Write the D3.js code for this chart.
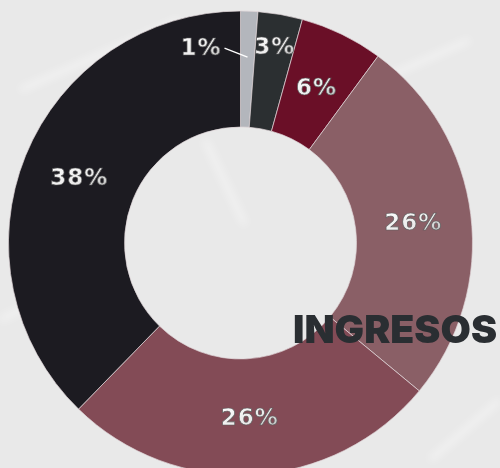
<!DOCTYPE html>
<html>
<head>
<meta charset="utf-8">
<script src="https://cdn.jsdelivr.net/npm/d3@7"></script>
<style>
  body { margin: 0; background: #e9e9e9; }
  svg { display: block; }
</style>
</head>
<body>
<div id="chart"></div>
<script>
// Datos del gráfico (porcentajes por categoría)
const categorias = ['A', 'B', 'C', 'D', 'E', 'F']
const valores = [1.2, 3.1, 5.8, 25.9, 26.3, 37.7]
const etiquetas = ['1%', '3%', '6%', '26%', '26%', '38%']
const colores = ['#b3b6bc', '#2b2f31', '#6a0f27', '#8a5f66', '#834b56', '#1c1b21']
const titulo = 'INGRESOS'

const width = 500
const height = 468
const cx = 240.5
const cy = 243
const outer = 232
const inner = 116

const svg = d3.select('#chart').append('svg')
  .attr('width', width)
  .attr('height', height)

// Fondo con algunas vetas blancas
svg.append('rect').attr('width', width).attr('height', height).attr('fill', '#e9e9e9')
const defs = svg.append('defs')
defs.append('filter').attr('id', 'blur')
  .append('feGaussianBlur').attr('stdDeviation', 4)

const vetas = [
  [[20, 90], [180, 20]], [[380, 80], [470, 40]], [[0, 320], [60, 290]],
  [[430, 460], [500, 400]], [[205, 140], [245, 225]], [[150, 450], [230, 468]]
]
svg.append('g').attr('filter', 'url(#blur)')
  .selectAll('line').data(vetas).join('line')
  .attr('x1', d => d[0][0]).attr('y1', d => d[0][1])
  .attr('x2', d => d[1][0]).attr('y2', d => d[1][1])
  .attr('stroke', '#fff').attr('stroke-width', 6).attr('opacity', 0.45)

// Gradiente para las etiquetas
const grad = defs.append('linearGradient').attr('id', 'metal')
  .attr('x1', '0').attr('y1', '0').attr('x2', '1').attr('y2', '1')
grad.append('stop').attr('offset', '0%').attr('stop-color', '#ffffff')
grad.append('stop').attr('offset', '60%').attr('stop-color', '#e9e9e9')
grad.append('stop').attr('offset', '100%').attr('stop-color', '#b0b0b0')

const pie = d3.pie().sort(null).value(d => d.value)
const arc = d3.arc().innerRadius(inner).outerRadius(outer)

const data = categorias.map((c, i) => ({ cat: c, value: valores[i], label: etiquetas[i], color: colores[i] }))
const arcs = pie(data)

const g = svg.append('g').attr('transform', `translate(${cx},${cy})`)

g.selectAll('path').data(arcs).join('path')
  .attr('d', arc)
  .attr('fill', d => d.data.color)
  .attr('stroke', '#e0d6d8')
  .attr('stroke-width', 0.7)

// Radios para las etiquetas
const labelArc = d3.arc().innerRadius(174).outerRadius(174)
const outArc = d3.arc().innerRadius(200).outerRadius(200)
const lineArc = d3.arc().innerRadius(186).outerRadius(186)

const estiloTexto = sel => sel
  .attr('font-family', 'DejaVu Sans')
  .attr('font-weight', 'bold')
  .attr('font-size', 23)
  .attr('letter-spacing', 1)
  .attr('fill', 'url(#metal)')
  .attr('stroke', '#5d5d5d')
  .attr('stroke-width', 0.7)
  .attr('dominant-baseline', 'central')

arcs.forEach((d, i) => {
  if (i === 0) {
    // Etiqueta con línea guía
    const [px, py] = lineArc.centroid(d)
    const qx = px - 23, qy = py - 9
    g.append('line')
      .attr('x1', px).attr('y1', py).attr('x2', qx).attr('y2', qy)
      .attr('stroke', '#fff').attr('stroke-width', 1.3)
    g.append('text').call(estiloTexto)
      .attr('x', qx - 3).attr('y', qy - 1)
      .attr('text-anchor', 'end')
      .text(d.data.label)
  } else {
    const [x, y] = (i === 1 ? outArc : labelArc).centroid(d)
    g.append('text').call(estiloTexto)
      .attr('x', x).attr('y', y)
      .attr('text-anchor', 'middle')
      .text(d.data.label)
  }
})

svg.append('text')
  .attr('x', 293).attr('y', 343)
  .attr('font-family', 'Inter')
  .attr('font-weight', 900)
  .attr('font-size', 38)
  .attr('textLength', 204)
  .attr('lengthAdjust', 'spacingAndGlyphs')
  .attr('fill', '#2a2e32')
  .text(titulo)
</script>
</body>
</html>
